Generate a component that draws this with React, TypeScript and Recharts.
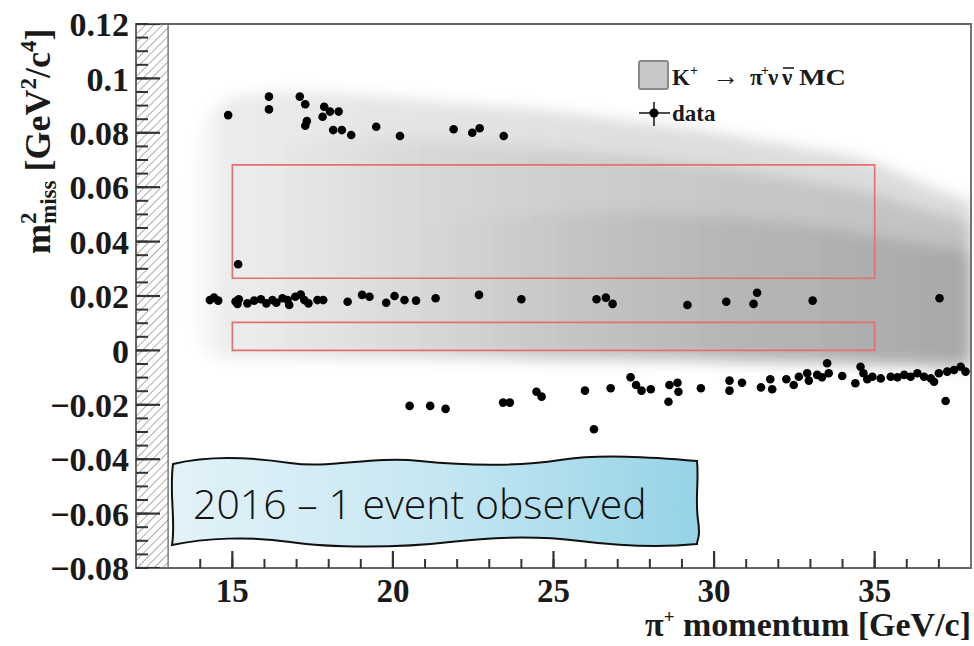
import React from 'react';
import { ComposedChart, Scatter, Area, XAxis, YAxis, ReferenceArea, Legend } from 'recharts';

// ---------- data ----------
const X_DOMAIN = [12, 38];
const Y_DOMAIN = [-0.08, 0.12];
const X_MAJOR = [15, 20, 25, 30, 35];
const X_TICK_LABELS = ['15', '20', '25', '30', '35'];
const Y_MAJOR = [-0.08, -0.06, -0.04, -0.02, 0, 0.02, 0.04, 0.06, 0.08, 0.1, 0.12];
const Y_TICK_LABELS = ['\u22120.08', '\u22120.06', '\u22120.04', '\u22120.02', '0', '0.02', '0.04', '0.06', '0.08', '0.1', '0.12'];

// excluded (hatched) momentum range
const HATCH_X = [12, 13];
// signal regions
const REGION_X = [15, 35];
const REGION1_Y = [0.0, 0.0103];
const REGION2_Y = [0.0265, 0.0682];

// data events: pi+ momentum [GeV/c] and m2_miss [GeV2/c4]
const DATA_P = [
  14.87, 16.14, 16.14, 17.10, 17.27, 17.32, 17.27, 17.86, 17.81, 18.04, 18.31, 18.14, 18.41, 18.70, 19.48, 20.22, 21.89, 22.47, 22.70, 23.45,
  15.18,
  14.30, 14.43, 14.56, 15.10, 15.16, 15.20, 15.47, 15.68, 15.89, 16.06, 16.25, 16.37, 16.56, 16.72, 16.77, 16.96, 17.13, 17.24, 17.37, 17.65, 17.83,
  18.59, 19.04, 19.27, 19.79, 20.05, 20.36, 20.72, 21.33, 22.68, 24.00, 26.34, 26.63, 26.84, 29.17, 30.38, 31.23, 31.34, 33.07, 37.02,
  20.52, 21.16, 21.64, 23.43, 23.64, 24.47, 24.63, 25.98, 26.26, 26.78, 27.40, 27.57, 27.74, 28.03, 28.58, 28.61, 28.86, 28.89, 29.59,
  30.48, 30.48, 30.87, 31.46, 31.75, 31.81, 32.25, 32.48, 32.64, 32.90, 32.95, 33.21, 33.36, 33.52, 33.57, 33.99, 34.40, 34.56, 34.65,
  34.77, 34.93, 35.19, 35.50, 35.71, 35.92, 36.12, 36.33, 36.54, 36.75, 36.85, 37.00, 37.21, 37.26, 37.47, 37.68, 37.83,
];
const DATA_M2 = [
  0.0865, 0.0933, 0.0886, 0.0933, 0.0905, 0.0843, 0.0826, 0.0896, 0.0859, 0.0878, 0.0878, 0.0810, 0.0810, 0.0792, 0.0822, 0.0788, 0.0813, 0.0800, 0.0817, 0.0788,
  0.0317,
  0.0185, 0.0194, 0.0183, 0.0180, 0.0171, 0.0188, 0.0173, 0.0183, 0.0188, 0.0173, 0.0185, 0.0175, 0.0192, 0.0185, 0.0167, 0.0197, 0.0205, 0.0185, 0.0173, 0.0185, 0.0185,
  0.0179, 0.0204, 0.0197, 0.0175, 0.0200, 0.0185, 0.0183, 0.0192, 0.0204, 0.0188, 0.0188, 0.0194, 0.0171, 0.0167, 0.0179, 0.0171, 0.0212, 0.0183, 0.0192,
  -0.0204, -0.0204, -0.0215, -0.0192, -0.0192, -0.0152, -0.0170, -0.0148, -0.0290, -0.0139, -0.0099, -0.0127, -0.0148, -0.0143, -0.0189, -0.0127, -0.0119, -0.0152, -0.0139,
  -0.0111, -0.0148, -0.0119, -0.0136, -0.0106, -0.0143, -0.0106, -0.0127, -0.0097, -0.0084, -0.0111, -0.0090, -0.0099, -0.0047, -0.0084, -0.0094, -0.0121, -0.0060, -0.0084,
  -0.0106, -0.0097, -0.0103, -0.0097, -0.0099, -0.0090, -0.0097, -0.0084, -0.0097, -0.0103, -0.0115, -0.0084, -0.0186, -0.0078, -0.0072, -0.0060, -0.0078,
];

// K+ -> pi+ nu nubar MC density bands (momentum, lower m2, upper m2)
const MC1_P = [13.6, 14.2, 15, 17, 19, 21, 23, 25, 27, 29, 31, 33, 35, 36, 37, 38];
const MC1_LO = [0.01, -0.001, -0.003, -0.003, -0.003, -0.003, -0.003, -0.004, -0.004, -0.004, -0.005, -0.005, -0.006, -0.006, -0.007, -0.007];
const MC1_HI = [0.06, 0.085, 0.093, 0.095, 0.094, 0.092, 0.090, 0.088, 0.085, 0.082, 0.078, 0.074, 0.069, 0.064, 0.059, 0.055];

const MC2_P = [16, 18, 20, 23, 26, 29, 32, 35, 37, 38];
const MC2_LO = [-0.002, -0.002, -0.002, -0.003, -0.003, -0.003, -0.004, -0.005, -0.006, -0.006];
const MC2_HI = [0.07, 0.078, 0.078, 0.076, 0.073, 0.069, 0.064, 0.057, 0.050, 0.047];

const MC3_P = [21, 24, 27, 30, 33, 36, 38];
const MC3_LO = [-0.001, -0.002, -0.002, -0.003, -0.003, -0.004, -0.004];
const MC3_HI = [0.045, 0.05, 0.051, 0.049, 0.046, 0.040, 0.036];

// ---------- helpers ----------
const zipRange = (p: number[], lo: number[], hi: number[]) => p.map((x, i) => ({ x, r: [lo[i], hi[i]] }));
const MC_LEVELS = [
  zipRange(MC1_P, MC1_LO, MC1_HI),
  zipRange(MC2_P, MC2_LO, MC2_HI),
  zipRange(MC3_P, MC3_LO, MC3_HI),
];
const dataPoints = DATA_P.map((x, i) => ({ x, y: DATA_M2[i] }));

const xTicks = Array.from({ length: 24 }, (_, i) => 14 + i);
const yTicks = Array.from({ length: 41 }, (_, i) => Math.round((-0.08 + i * 0.005) * 1000) / 1000);

// longer inward marks for the major ticks
const xMajorMarks = X_MAJOR.map((v) => ({ x: v, y: Y_DOMAIN[0] }));
const yMajorMarks = Y_MAJOR.map((v) => ({ x: X_DOMAIN[0], y: v }));

const SERIF = '"Liberation Serif", "DejaVu Serif", serif';

const XTick = (props: any) => {
  const { x, y, payload } = props;
  const idx = X_MAJOR.findIndex((m) => Math.abs(m - payload.value) < 1e-6);
  if (idx < 0) return <g />;
  return (
    <text x={x} y={y + 34} textAnchor="middle" fontFamily={SERIF} fontWeight="bold" fontSize={33} fill="#1a1a1a">
      {X_TICK_LABELS[idx]}
    </text>
  );
};

const YTick = (props: any) => {
  const { x, y, payload } = props;
  const idx = Y_MAJOR.findIndex((m) => Math.abs(m - payload.value) < 1e-6);
  if (idx < 0) return <g />;
  return (
    <text x={x - 7} y={y} dy="0.36em" textAnchor="end" fontFamily={SERIF} fontWeight="bold" fontSize={34} fill="#1a1a1a">
      {Y_TICK_LABELS[idx]}
    </text>
  );
};

const XMajorMark = (p: any) => <rect x={p.cx - 1.1} y={p.cy - 17} width={2.2} height={17} fill="#333" />;
const YMajorMark = (p: any) => <rect x={p.cx} y={p.cy - 1.1} width={24} height={2.2} fill="#333" />;

const LegendContent = () => (
  <svg width={240} height={82} style={{ display: 'block', overflow: 'visible' }}>
    <rect x={9} y={11} width={29} height={28} rx={2} fill="#c8c8c8" stroke="#8a8a8a" strokeWidth={2} />
    <g fontFamily={SERIF} fontWeight="bold" fill="#1a1a1a">
      <text x={42} y={35} fontSize={23}>K</text>
      <text x={60} y={25} fontSize={14}>+</text>
      <text x={82} y={35} fontSize={27} fontWeight="normal">{'\u2192'}</text>
      <text x={120} y={35} fontSize={23}>{'\u03C0'}</text>
      <text x={131} y={25} fontSize={14}>+</text>
      <text x={138} y={35} fontSize={23}>{'\u03BD'}</text>
      <text x={152} y={35} fontSize={23}>{'\u03BD'}</text>
      <line x1={153} x2={164} y1={18} y2={18} stroke="#1a1a1a" strokeWidth={1.6} />
      <text x={169} y={35} fontSize={23} textLength={47} lengthAdjust="spacingAndGlyphs">MC</text>
      <text x={42} y={71} fontSize={23}>data</text>
    </g>
    <line x1={9} x2={40} y1={63} y2={63} stroke="#111" strokeWidth={1.5} />
    <line x1={24} x2={24} y1={52} y2={76} stroke="#111" strokeWidth={1.5} />
    <circle cx={24} cy={63} r={4.5} fill="#000" />
  </svg>
);

const Dot = (p: any) => <circle cx={p.cx} cy={p.cy} r={4.3} fill="#000" />;

const MC_GRADIENTS = [
  [[0, 0], [0.05, 0.075], [0.25, 0.1], [0.6, 0.13], [1, 0.14]],
  [[0, 0], [0.25, 0.06], [0.65, 0.1], [1, 0.12]],
  [[0, 0], [0.35, 0.06], [1, 0.13]],
];

export default function App() {
  return (
    <div style={{ position: 'absolute', left: 0, top: 0, width: 974, height: 646, background: '#fff' }}>
      <ComposedChart width={974} height={646} margin={{ top: 24, right: 3, bottom: 0, left: 0 }}>
        <defs>
          <pattern id="hatch" patternUnits="userSpaceOnUse" width={6} height={6} patternTransform="rotate(45)">
            <line x1={0} y1={0} x2={0} y2={6} stroke="#808080" strokeWidth={1.3} />
          </pattern>
          <filter id="mcBlur" x="-20%" y="-30%" width="140%" height="160%">
            <feGaussianBlur stdDeviation={7} />
          </filter>
          {MC_GRADIENTS.map((stops, i) => (
            <linearGradient key={i} id={'mcGrad' + i} x1="0" y1="0" x2="1" y2="0">
              {stops.map(([o, a], j) => (
                <stop key={j} offset={o} stopColor="#000" stopOpacity={a} />
              ))}
            </linearGradient>
          ))}
          <linearGradient id="calloutFill" x1="0" y1="0" x2="1" y2="0">
            <stop offset="0" stopColor="#e3f2f8" />
            <stop offset="0.5" stopColor="#c6e7f2" />
            <stop offset="1" stopColor="#95d3e6" />
          </linearGradient>
        </defs>
        {MC_LEVELS.map((lvl, i) => (
          <Area
            key={'mc' + i}
            data={lvl}
            dataKey="r"
            type="monotone"
            stroke="none"
            fill={'url(#mcGrad' + i + ')'}
            fillOpacity={1}
            filter="url(#mcBlur)"
            isAnimationActive={false}
            legendType="none"
            activeDot={false}
            dot={false}
          />
        ))}
        <ReferenceArea x1={HATCH_X[0]} x2={HATCH_X[1]} y1={Y_DOMAIN[0]} y2={Y_DOMAIN[1]} fill="url(#hatch)" fillOpacity={1} stroke="#7a7a7a" strokeWidth={1.5} ifOverflow="hidden" />
        <ReferenceArea x1={REGION_X[0]} x2={REGION_X[1]} y1={REGION2_Y[0]} y2={REGION2_Y[1]} fill="none" stroke="#e56f6f" strokeWidth={1.6} />
        <ReferenceArea x1={REGION_X[0]} x2={REGION_X[1]} y1={REGION1_Y[0]} y2={REGION1_Y[1]} fill="none" stroke="#e56f6f" strokeWidth={1.6} />
        <ReferenceArea x1={X_DOMAIN[0]} x2={X_DOMAIN[1]} y1={Y_DOMAIN[0]} y2={Y_DOMAIN[1]} fill="none" stroke="#666" strokeWidth={1.8} />
        <Scatter data={yMajorMarks} dataKey="y" shape={<YMajorMark />} isAnimationActive={false} legendType="none" />
        <Scatter data={xMajorMarks} dataKey="y" shape={<XMajorMark />} isAnimationActive={false} legendType="none" />
        <Scatter data={dataPoints} dataKey="y" shape={<Dot />} isAnimationActive={false} legendType="none" />
        <XAxis
          dataKey="x"
          type="number"
          domain={X_DOMAIN}
          allowDataOverflow
          ticks={xTicks}
          interval={0}
          tick={<XTick />}
          tickLine={{ stroke: '#333', strokeWidth: 2 }}
          tickSize={-9}
          tickMargin={9}
          axisLine={{ stroke: '#666', strokeWidth: 2 }}
          height={78}
        />
        <YAxis
          type="number"
          domain={Y_DOMAIN}
          allowDataOverflow
          ticks={yTicks}
          interval={0}
          tick={<YTick />}
          tickLine={{ stroke: '#333', strokeWidth: 2 }}
          tickSize={-12}
          tickMargin={12}
          axisLine={{ stroke: '#666', strokeWidth: 2 }}
          width={136}
        />
        <Legend
          content={<LegendContent />}
          layout="horizontal"
          verticalAlign="middle"
          align="center"
          wrapperStyle={{ left: 630, top: 50, width: 240, height: 82 }}
        />
        {/* y-axis title */}
        <text x={50} y={254} transform="rotate(-90 50 254)" fontFamily={SERIF} fontWeight="bold" fontSize={36} fill="#1a1a1a">
          <tspan>m</tspan>
          <tspan fontSize={23} dy={-14}>2</tspan>
          <tspan fontSize={23} dx={-11.5} dy={20}>miss</tspan>
          <tspan dy={-6}>{' [GeV'}</tspan>
          <tspan fontSize={23} dy={-14}>2</tspan>
          <tspan dy={14}>/c</tspan>
          <tspan fontSize={23} dy={-14}>4</tspan>
          <tspan dy={14}>]</tspan>
        </text>
        {/* x-axis title */}
        <text x={971} y={636} textAnchor="end" fontFamily={SERIF} fontWeight="bold" fontSize={34} fill="#1a1a1a">
          <tspan>{'\u03C0'}</tspan>
          <tspan fontSize={19} dy={-13}>+</tspan>
          <tspan dy={13}>{' momentum [GeV/c]'}</tspan>
        </text>
        {/* annotation callout */}
        <path
          d="M173,464 C210,455 250,457 290,463 S370,456 420,461 S520,466 560,460 S650,457 697,461 C699,480 695,500 698,520 S697,538 697,544 C660,548 620,546 580,541 S500,536 450,542 S330,548 290,542 S205,538 172,545 C176,520 169,495 173,464 Z"
          fill="url(#calloutFill)"
          stroke="#111"
          strokeWidth={2}
        />
        <text x={193} y={519} fontFamily='"Open Sans", "Noto Sans", sans-serif' fontWeight={300} fontSize={41} fill="#111">
          2016 {'\u2013'} 1 event observed
        </text>
      </ComposedChart>
    </div>
  );
}
